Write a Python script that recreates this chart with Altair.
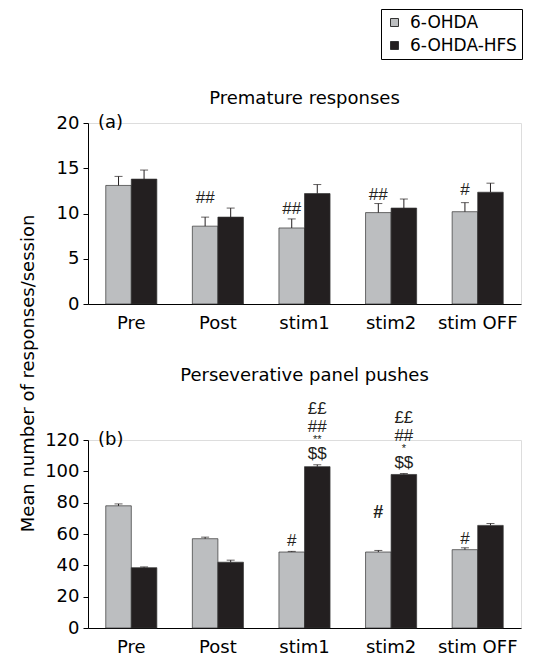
import altair as alt
import pandas as pd

conditions = ["Pre", "Post", "stim1", "stim2", "stim OFF"]
groups = ["6-OHDA", "6-OHDA-HFS"]

prem_ohda = [13.1, 8.6, 8.4, 10.1, 10.2]
prem_ohda_err = [1.0, 1.0, 1.0, 1.0, 1.0]
prem_hfs = [13.8, 9.6, 12.2, 10.6, 12.35]
prem_hfs_err = [1.0, 1.0, 1.0, 1.0, 1.0]

pers_ohda = [78.0, 57.0, 48.5, 48.5, 50.0]
pers_ohda_err = [1.2, 1.0, 0.4, 1.0, 1.2]
pers_hfs = [38.5, 42.0, 103.0, 98.0, 65.5]
pers_hfs_err = [0.5, 1.3, 1.2, 0.6, 1.2]

# annotations: condition, group, text, lift above error bar (px), font size, weight
prem_annot_cond = ["Post", "stim1", "stim2", "stim OFF"]
prem_annot_group = ["6-OHDA", "6-OHDA", "6-OHDA", "6-OHDA"]
prem_annot_text = ["##", "##", "##", "#"]
prem_annot_lift = [19, 10, 9, 13]

pers_annot_cond = ["stim1", "stim1", "stim1", "stim1", "stim2", "stim2", "stim2", "stim2",
                   "stim1", "stim2", "stim OFF"]
pers_annot_group = ["6-OHDA-HFS"] * 8 + ["6-OHDA"] * 3
pers_annot_text = ["$$", "**", "##", "££", "$$", "*", "##", "££", "#", "#", "#"]
pers_annot_lift = [11, 25, 38, 56, 11, 25, 38, 56, 10, 37, 9]
pers_annot_size = [17, 11, 17, 17, 17, 11, 17, 17, 17, 18, 17]
pers_annot_weight = ["normal"] * 9 + ["bold", "normal"]

FONT = "DejaVu Sans"
AFONT = "Liberation Sans"
GRAY = "#bcbec0"
BLACK = "#231f20"
W = 433
H_TOP = 181
H_BOT = 188


def bars_df(a, ae, b, be):
    rows = []
    for i, c in enumerate(conditions):
        rows.append({"cond": c, "group": groups[0], "value": a[i], "top": a[i] + ae[i]})
        rows.append({"cond": c, "group": groups[1], "value": b[i], "top": b[i] + be[i]})
    return pd.DataFrame(rows)


def annot_df(df, conds, grps, texts, lifts, px_per_unit, sizes=None, weights=None):
    rows = []
    for i in range(len(conds)):
        top = df[(df.cond == conds[i]) & (df.group == grps[i])]["top"].iloc[0]
        rows.append({
            "cond": conds[i], "group": grps[i], "text": texts[i],
            "y": top + lifts[i] / px_per_unit,
            "size": sizes[i] if sizes else 17,
            "weight": weights[i] if weights else "normal",
        })
    return pd.DataFrame(rows)


def panel(df, adf, dmax, step, height, title, label, title_offset, y_title=False):
    xaxis = alt.Axis(labelAngle=0, ticks=False, labelPadding=10,
                     labelFontSize=18, labelFont=FONT, labelColor="black",
                     domainColor="black", domainWidth=1)
    xscale = alt.Scale(paddingInner=0.41, paddingOuter=0.205)
    yaxis = dict(values=list(range(0, dmax + 1, step)), tickSize=5, tickColor="black",
                 labelFontSize=18, labelFont=FONT, labelColor="black", labelPadding=4,
                 labelOverlap=False, domainColor="black", grid=False)
    if y_title:
        yaxis.update(title="Mean number of responses/session", titleFont=FONT,
                     titleFontSize=18, titleFontWeight="normal", titleColor="black",
                     titleAngle=-90, titleX=-51, titleY=250, titleAlign="center",
                     titleBaseline="bottom")
    else:
        yaxis.update(title=None)
    yax = alt.Axis(**yaxis)
    yscale = alt.Scale(domain=[0, dmax], nice=False)

    def X():
        return alt.X("cond:N", sort=conditions, title=None, scale=xscale, axis=xaxis)

    def Y(field):
        return alt.Y(field, scale=yscale, axis=yax)

    xo = alt.XOffset("group:N", sort=groups)
    color = alt.Color("group:N", sort=groups,
                      scale=alt.Scale(domain=groups, range=[GRAY, BLACK]),
                      legend=alt.Legend(title=None, orient="none", legendX=293, legendY=-114,
                                        symbolType="square", symbolSize=64,
                                        symbolStrokeColor="#333", symbolStrokeWidth=1,
                                        labelFont=FONT, labelFontSize=17, labelColor="black",
                                        strokeColor="black", padding=5, rowPadding=5,
                                        labelOffset=7))
    base = alt.Chart(df)
    bars = base.mark_bar(stroke="#333", strokeWidth=0.7).encode(
        x=X(), xOffset=xo, y=Y("value:Q"), color=color)
    err = base.mark_rule(color=BLACK, strokeWidth=1).encode(
        x=X(), xOffset=xo, y=Y("value:Q"), y2="top:Q")
    cap = base.mark_tick(color=BLACK, thickness=1, size=8).encode(
        x=X(), xOffset=xo, y=Y("top:Q"))
    enc = dict(x=X(), xOffset=xo, y=Y("y:Q"), text="text:N",
               size=alt.Size("size:Q", scale=None, legend=None))
    ann = alt.Chart(adf).mark_text(font=AFONT, baseline="middle", color=BLACK).encode(
        **enc).transform_filter("datum.weight == 'normal'")
    ann_b = alt.Chart(adf).mark_text(font=AFONT, baseline="middle", color=BLACK,
                                     fontWeight="bold").encode(
        **enc).transform_filter("datum.weight == 'bold'")
    lab = alt.Chart(pd.DataFrame({"t": [label]})).mark_text(
        font=FONT, fontSize=18, align="left", baseline="middle", color="black").encode(
        x=alt.value(10), y=alt.value(0), text="t:N")
    return alt.layer(bars, err, cap, ann, ann_b, lab).properties(
        width=W, height=height,
        title=alt.TitleParams(title, font=FONT, fontSize=18, fontWeight="normal",
                              color="black", anchor="middle", offset=title_offset))


top_df = bars_df(prem_ohda, prem_ohda_err, prem_hfs, prem_hfs_err)
bot_df = bars_df(pers_ohda, pers_ohda_err, pers_hfs, pers_hfs_err)
top_ann = annot_df(top_df, prem_annot_cond, prem_annot_group, prem_annot_text,
                   prem_annot_lift, H_TOP / 20)
bot_ann = annot_df(bot_df, pers_annot_cond, pers_annot_group, pers_annot_text,
                   pers_annot_lift, H_BOT / 120, pers_annot_size, pers_annot_weight)

top = panel(top_df, top_ann, 20, 5, H_TOP, "Premature responses", "(a)", 6, y_title=True)
bot = panel(bot_df, bot_ann, 120, 20, H_BOT, "Perseverative panel pushes", "(b)", 15)

chart = alt.vconcat(top, bot, spacing=136, bounds="flush").configure_view(
    stroke=None).configure(padding={"left": 10, "top": 0, "right": 5, "bottom": 5})

chart.save("out.html", embed_options={"renderer": "svg", "actions": False})
